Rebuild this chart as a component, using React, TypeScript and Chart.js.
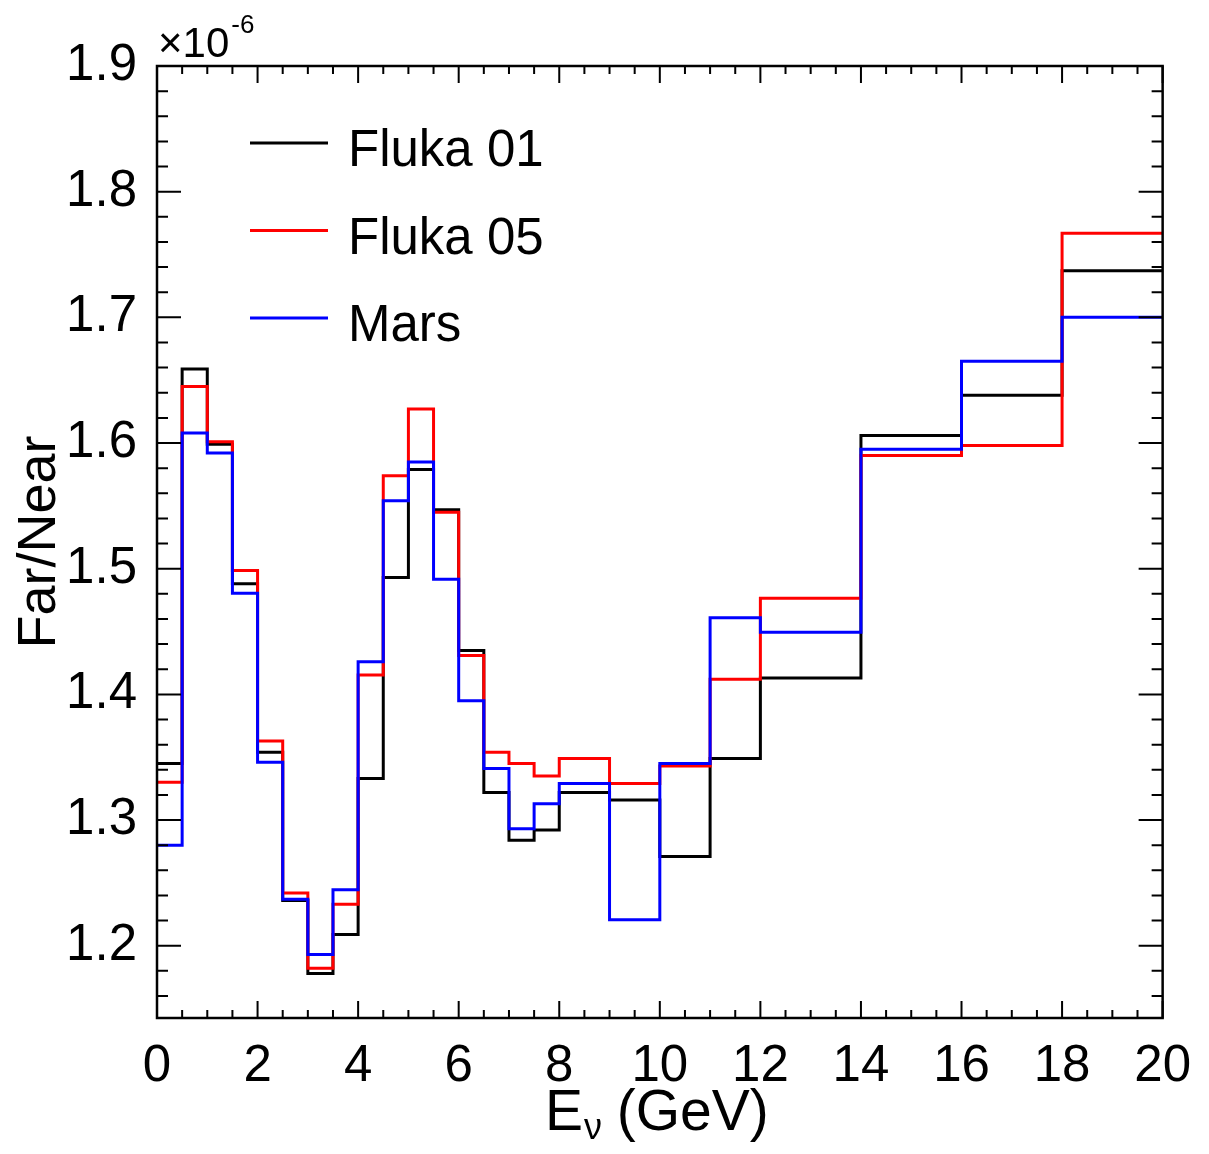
import React, { useEffect, useRef } from "react";
import { Chart, registerables } from "chart.js";

Chart.register(...registerables);

// Bin low edges (GeV), last entry is the upper edge of the last bin
const binEdges = [0, 0.5, 1, 1.5, 2, 2.5, 3, 3.5, 4, 4.5, 5, 5.5, 6, 6.5, 7, 7.5, 8, 9, 10, 11, 12, 14, 16, 18, 20];

// Far/Near ratio, in units of 1e-6
const fluka01 = [1.345, 1.659, 1.599, 1.488, 1.354, 1.236, 1.178, 1.209, 1.333, 1.493, 1.579, 1.547, 1.435, 1.322, 1.284, 1.292, 1.322, 1.316, 1.271, 1.349, 1.413, 1.606, 1.638, 1.737];
const fluka05 = [1.330, 1.645, 1.601, 1.4985, 1.363, 1.242, 1.182, 1.233, 1.4155, 1.574, 1.627, 1.545, 1.431, 1.354, 1.345, 1.335, 1.349, 1.329, 1.343, 1.412, 1.4765, 1.590, 1.598, 1.767];
const mars = [1.280, 1.608, 1.592, 1.4805, 1.346, 1.237, 1.193, 1.2445, 1.426, 1.554, 1.585, 1.4916, 1.395, 1.341, 1.293, 1.313, 1.329, 1.2206, 1.345, 1.461, 1.4495, 1.595, 1.665, 1.700];

const seriesLabels = ["Fluka 01", "Fluka 05", "Mars"];
const seriesColors = ["#000000", "#ff0000", "#0000ff"];

const xTickValues = [0, 2, 4, 6, 8, 10, 12, 14, 16, 18, 20];
const yTickValues = [1.2, 1.3, 1.4, 1.5, 1.6, 1.7, 1.8, 1.9];
const xMinorStep = 0.5;
const yMinorStep = 0.02;
const yMin = 1.1425;
const yMax = 1.9;

const FONT = "'Liberation Sans', Arial, Helvetica, sans-serif";

function toSteps(vals: number[]) {
  return binEdges.map((e, i) => ({ x: e, y: i < vals.length ? vals[i] : vals[vals.length - 1] }));
}

const rootStylePlugin = {
  id: "rootStyle",
  afterDatasetsDraw(chart: any) {
    const { ctx, chartArea: a } = chart;
    const xs = chart.scales.x;
    const ys = chart.scales.y;
    ctx.save();
    ctx.strokeStyle = "#000";
    ctx.lineWidth = 2.5;
    ctx.strokeRect(a.left, a.top, a.right - a.left, a.bottom - a.top);

    // x ticks (bottom and top)
    ctx.lineWidth = 2;
    ctx.beginPath();
    for (let v = xs.min; v <= xs.max + 1e-9; v += xMinorStep) {
      const px = xs.getPixelForValue(v);
      const major = xTickValues.some((t) => Math.abs(t - v) < 1e-6);
      const len = major ? 17 : 8;
      ctx.moveTo(px, a.bottom);
      ctx.lineTo(px, a.bottom - len);
      ctx.moveTo(px, a.top);
      ctx.lineTo(px, a.top + len);
    }
    // y ticks (left and right)
    const start = Math.ceil((ys.min - 1e-9) / yMinorStep) * yMinorStep;
    for (let v = start; v <= ys.max + 1e-9; v += yMinorStep) {
      const py = ys.getPixelForValue(v);
      const major = yTickValues.some((t) => Math.abs(t - v) < 1e-6);
      const len = major ? 24 : 11;
      ctx.moveTo(a.left, py);
      ctx.lineTo(a.left + len, py);
      ctx.moveTo(a.right, py);
      ctx.lineTo(a.right - len, py);
    }
    ctx.stroke();

    // exponent label
    ctx.fillStyle = "#000";
    ctx.textBaseline = "alphabetic";
    ctx.textAlign = "left";
    ctx.font = `42px ${FONT}`;
    ctx.fillText("\u00d710", a.left + 1, a.top - 9);
    const w10 = ctx.measureText("\u00d710").width;
    ctx.font = `26px ${FONT}`;
    ctx.fillText("-6", a.left + 3 + w10, a.top - 33);

    // legend
    const ds = chart.data.datasets;
    ds.forEach((d: any, i: number) => {
      const ly = a.top + 77 + i * 87.5;
      ctx.strokeStyle = d.borderColor;
      ctx.lineWidth = 2.8;
      ctx.beginPath();
      ctx.moveTo(a.left + 93, ly);
      ctx.lineTo(a.left + 171, ly);
      ctx.stroke();
      ctx.fillStyle = "#000";
      ctx.font = `51px ${FONT}`;
      ctx.textBaseline = "alphabetic";
      ctx.fillText(d.label, a.left + 191, ly + 23);
    });

    // x title with subscript nu
    const big = `57px ${FONT}`;
    const small = `36px ${FONT}`;
    ctx.font = big;
    const wE = ctx.measureText("E").width;
    const wRest = ctx.measureText(" (GeV)").width;
    ctx.font = small;
    const wNu = ctx.measureText("\u03bd").width;
    const total = wE + wNu + wRest;
    let tx = (a.left + a.right) / 2 - total / 2 - 3;
    const base = a.bottom + 112;
    ctx.font = big;
    ctx.fillText("E", tx, base);
    tx += wE;
    ctx.font = small;
    ctx.fillText("\u03bd", tx + 1, base + 9);
    tx += wNu;
    ctx.font = big;
    ctx.fillText(" (GeV)", tx, base);

    // y title
    ctx.save();
    ctx.translate(a.left - 102, (a.top + a.bottom) / 2);
    ctx.rotate(-Math.PI / 2);
    ctx.textAlign = "center";
    ctx.font = `54px ${FONT}`;
    ctx.fillText("Far/Near", 0, 0);
    ctx.restore();

    ctx.restore();
  },
};

export default function App() {
  const ref = useRef<HTMLCanvasElement | null>(null);

  useEffect(() => {
    if (!ref.current) return;
    const series = [fluka01, fluka05, mars];
    const chart = new Chart(ref.current, {
      type: "line",
      data: {
        datasets: series.map((vals, i) => ({
          label: seriesLabels[i],
          data: toSteps(vals),
          borderColor: seriesColors[i],
          backgroundColor: seriesColors[i],
          borderWidth: 3,
          pointRadius: 0,
          stepped: true,
          fill: false,
          tension: 0,
          order: 2 - i,
        })),
      },
      options: {
        responsive: false,
        animation: false,
        events: [],
        layout: { padding: { left: 0, top: 66, right: 46, bottom: 0 } },
        plugins: {
          legend: { display: false },
          tooltip: { enabled: false },
          title: { display: false },
        },
        scales: {
          x: {
            type: "linear",
            min: 0,
            max: 20,
            grid: { display: false, drawTicks: false },
            border: { display: false },
            afterBuildTicks: (s: any) => {
              s.ticks = xTickValues.map((v) => ({ value: v }));
            },
            afterFit: (s: any) => {
              s.height = 136;
            },
            ticks: {
              padding: 18,
              maxRotation: 0,
              autoSkip: false,
              color: "#000",
              font: { family: FONT, size: 51 },
              callback: (v: any) => String(v),
            },
          },
          y: {
            type: "linear",
            min: yMin,
            max: yMax,
            grid: { display: false, drawTicks: false },
            border: { display: false },
            afterBuildTicks: (s: any) => {
              s.ticks = yTickValues.map((v) => ({ value: v }));
            },
            afterFit: (s: any) => {
              s.width = 157;
            },
            ticks: {
              padding: 20,
              autoSkip: false,
              color: "#000",
              font: { family: FONT, size: 51 },
              callback: (v: any) => Number(v).toFixed(1),
            },
          },
        },
      },
      plugins: [rootStylePlugin],
    });
    return () => chart.destroy();
  }, []);

  return (
    <div style={{ position: "absolute", left: 0, top: 0, width: 1209, height: 1154, background: "#fff" }}>
      <canvas ref={ref} width={1209} height={1154} style={{ display: "block" }} />
    </div>
  );
}
